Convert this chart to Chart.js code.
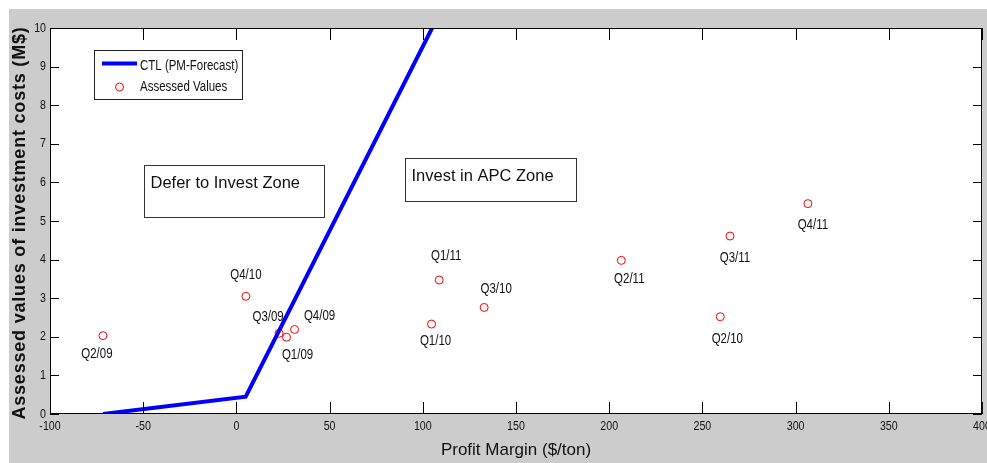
<!DOCTYPE html>
<html>
<head>
<meta charset="utf-8">
<script src="https://cdn.jsdelivr.net/npm/chart.js@4/dist/chart.umd.min.js"></script>
<style>
  html, body { margin: 0; padding: 0; background: #fff; }
  #wrap { width: 987px; height: 463px; }
</style>
</head>
<body>
<div id="wrap"><canvas id="chart" width="987" height="463"></canvas></div>
<script>
"use strict";

// assessed values per quarter
const quarters = ['Q1/09', 'Q2/09', 'Q3/09', 'Q4/09', 'Q1/10', 'Q2/10', 'Q3/10', 'Q4/10', 'Q1/11', 'Q2/11', 'Q3/11', 'Q4/11'];
const margins = [26.9, -71.6, 22.9, 31.2, 104.7, 259.6, 132.9, 5.1, 108.8, 206.5, 264.8, 306.6];
const costs = [1.99, 2.03, 2.09, 2.19, 2.33, 2.52, 2.76, 3.05, 3.47, 3.98, 4.61, 5.45];

// CTL (PM-Forecast) line
const ctlMargin = [-71.5, 5, 105];
const ctlCost = [0, 0.45, 10];

// axis ticks
const xTicks = [-100, -50, 0, 50, 100, 150, 200, 250, 300, 350, 400];
const yTicks = [0, 1, 2, 3, 4, 5, 6, 7, 8, 9, 10];

// where each quarter label sits relative to its point (px)
const labelOffsets = [[11, 18], [-6, 18], [-11, -16], [25, -13], [4, 17], [7, 22], [12, -18], [0, -21], [7, -24], [8, 19], [5, 22], [5, 22]];

const SANS = "'Liberation Sans', Arial, sans-serif";
const BLUE = '#0000ff';
const RED = '#ff0000';
const SQUEEZE = 0.82; // the small matlab text is narrower than plain Arial

// draw text squeezed horizontally
const narrowText = (ctx, text, x, y, align) => {
    ctx.save();
    ctx.translate(x, y);
    ctx.scale(SQUEEZE, 1);
    ctx.textAlign = align;
    ctx.fillText(text, 0, 0);
    ctx.restore();
};

const decor = {
    id: 'decor',
    beforeDraw(chart) {
        const ctx = chart.ctx;
        const a = chart.chartArea;
        ctx.save();
        ctx.fillStyle = '#ffffff';
        ctx.fillRect(0, 0, chart.width, chart.height);
        ctx.fillStyle = '#cccccc';
        ctx.fillRect(9, 9, chart.width - 9, chart.height - 9);
        ctx.fillStyle = '#ffffff';
        ctx.fillRect(a.left, a.top, a.right - a.left, a.bottom - a.top);
        ctx.restore();
    },
    afterDraw(chart) {
        const ctx = chart.ctx;
        const a = chart.chartArea;
        const xs = chart.scales.x;
        const ys = chart.scales.y;
        ctx.save();

        // box and inward ticks
        ctx.strokeStyle = '#000';
        ctx.lineWidth = 1;
        ctx.strokeRect(a.left + 0.5, a.top + 0.5, a.right - a.left - 1, a.bottom - a.top - 1);
        ctx.beginPath();
        xTicks.forEach(v => {
            const px = Math.round(xs.getPixelForValue(v)) + 0.5;
            ctx.moveTo(px, a.bottom); ctx.lineTo(px, a.bottom - 12);
            ctx.moveTo(px, a.top); ctx.lineTo(px, a.top + 12);
        });
        yTicks.forEach(v => {
            const py = Math.round(ys.getPixelForValue(v)) + 0.5;
            ctx.moveTo(a.left, py); ctx.lineTo(a.left + 9, py);
            ctx.moveTo(a.right, py); ctx.lineTo(a.right - 9, py);
        });
        ctx.stroke();

        // tick labels
        ctx.fillStyle = '#111';
        ctx.font = '13px ' + SANS;
        ctx.textBaseline = 'middle';
        xTicks.forEach(v => narrowText(ctx, String(v), xs.getPixelForValue(v), a.bottom + 12, 'center'));
        yTicks.forEach(v => narrowText(ctx, String(v), a.left - 4, ys.getPixelForValue(v), 'right'));

        // quarter labels
        ctx.font = '14px ' + SANS;
        quarters.forEach((q, i) => {
            const px = xs.getPixelForValue(margins[i]);
            const py = ys.getPixelForValue(costs[i]);
            narrowText(ctx, q, px + labelOffsets[i][0], py + labelOffsets[i][1], 'center');
        });

        // zone boxes
        const zoneBox = (x, y, w, h, text) => {
            ctx.fillStyle = '#fff';
            ctx.fillRect(x, y, w, h);
            ctx.strokeStyle = '#333';
            ctx.strokeRect(x + 0.5, y + 0.5, w, h);
            ctx.fillStyle = '#111';
            ctx.font = '16.5px ' + SANS;
            ctx.textAlign = 'left';
            ctx.fillText(text, x + 6.5, y + 18.5);
        };
        zoneBox(144, 165, 180, 52, 'Defer to Invest Zone');
        zoneBox(405, 158, 171, 43, 'Invest in APC Zone');

        // legend
        ctx.fillStyle = '#fff';
        ctx.fillRect(94, 50, 149, 49);
        ctx.strokeStyle = '#222';
        ctx.strokeRect(94.5, 50.5, 148, 49);
        ctx.strokeStyle = BLUE;
        ctx.lineWidth = 4;
        ctx.beginPath();
        ctx.moveTo(102, 63.5); ctx.lineTo(137, 63.5);
        ctx.stroke();
        ctx.strokeStyle = RED;
        ctx.lineWidth = 1;
        ctx.beginPath();
        ctx.arc(119.5, 87, 4, 0, Math.PI * 2);
        ctx.stroke();
        ctx.fillStyle = '#111';
        ctx.font = '14px ' + SANS;
        narrowText(ctx, chart.data.datasets[0].label, 140, 66, 'left');
        narrowText(ctx, chart.data.datasets[1].label, 140, 87, 'left');

        // axis titles
        ctx.textAlign = 'center';
        ctx.font = '17px ' + SANS;
        ctx.fillText('Profit Margin ($/ton)', (a.left + a.right) / 2, 450);
        ctx.translate(20, (a.top + a.bottom) / 2 + 2);
        ctx.rotate(-Math.PI / 2);
        ctx.font = 'bold 18px ' + SANS;
        ctx.letterSpacing = '0.8px';
        ctx.fillText('Assessed values of investment costs (M$)', 0, 0);
        ctx.restore();
    }
};

new Chart(document.getElementById('chart'), {
    type: 'scatter',
    data: {
        datasets: [{
            label: 'CTL (PM-Forecast)',
            data: ctlMargin.map((x, i) => ({ x, y: ctlCost[i] })),
            showLine: true,
            borderColor: BLUE,
            borderWidth: 4,
            pointRadius: 0,
            fill: false
        }, {
            label: 'Assessed Values',
            data: margins.map((x, i) => ({ x, y: costs[i] })),
            showLine: false,
            borderColor: RED,
            backgroundColor: 'rgba(0,0,0,0)',
            borderWidth: 1,
            pointRadius: 4,
            pointStyle: 'circle'
        }]
    },
    options: {
        responsive: false,
        devicePixelRatio: 1,
        animation: false,
        layout: { autoPadding: false, padding: { top: 28, right: 5, left: 0, bottom: 0 } },
        plugins: { legend: { display: false }, tooltip: { enabled: false } },
        scales: {
            x: {
                type: 'linear',
                min: -100, max: 400,
                afterBuildTicks: s => { s.ticks = xTicks.map(v => ({ value: v })); },
                afterFit: s => { s.height = 49; s.paddingLeft = 0; s.paddingRight = 0; },
                grid: { display: false, drawTicks: false },
                border: { display: false },
                ticks: { display: false }
            },
            y: {
                type: 'linear',
                min: 0, max: 10,
                afterBuildTicks: s => { s.ticks = yTicks.map(v => ({ value: v })); },
                afterFit: s => { s.width = 50; s.paddingTop = 0; s.paddingBottom = 0; },
                grid: { display: false, drawTicks: false },
                border: { display: false },
                ticks: { display: false }
            }
        }
    },
    plugins: [decor]
});
</script>
</body>
</html>
